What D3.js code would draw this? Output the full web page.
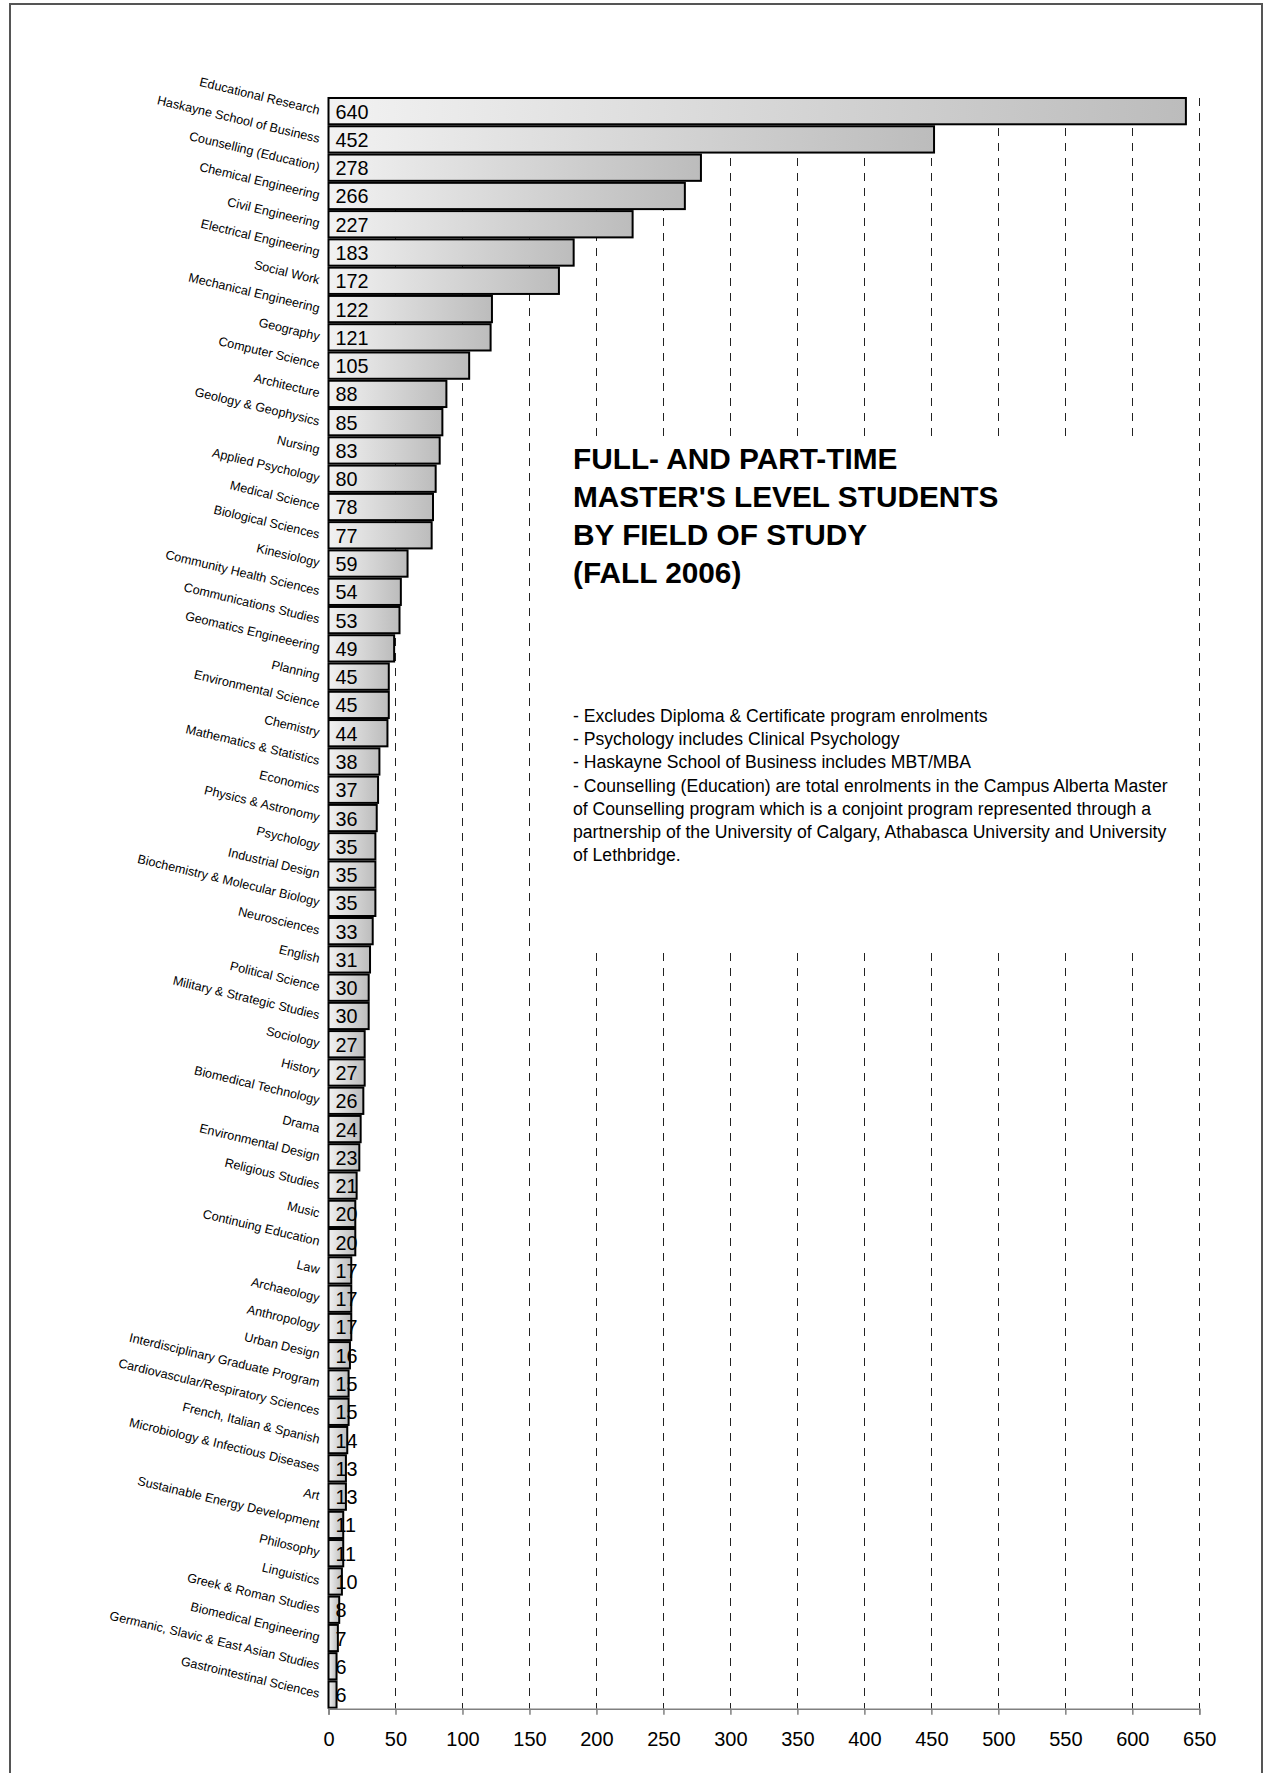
<!DOCTYPE html>
<html><head><meta charset="utf-8">
<script src="https://cdn.jsdelivr.net/npm/d3@7"></script>
<style>
html,body{margin:0;padding:0;background:#fff;}
svg{display:block;font-family:"Liberation Sans",Arial,sans-serif;}
</style></head>
<body><svg id="chart" width="1264" height="1773"></svg>
<script>
const categories = ["Educational Research","Haskayne School of Business","Counselling (Education)","Chemical Engineering","Civil Engineering","Electrical Engineering","Social Work","Mechanical Engineering","Geography","Computer Science","Architecture","Geology & Geophysics","Nursing","Applied Psychology","Medical Science","Biological Sciences","Kinesiology","Community Health Sciences","Communications Studies","Geomatics Engineeering","Planning","Environmental Science","Chemistry","Mathematics & Statistics","Economics","Physics & Astronomy","Psychology","Industrial Design","Biochemistry & Molecular Biology","Neurosciences","English","Political Science","Military & Strategic Studies","Sociology","History","Biomedical Technology","Drama","Environmental Design","Religious Studies","Music","Continuing Education","Law","Archaeology","Anthropology","Urban Design","Interdisciplinary Graduate Program","Cardiovascular/Respiratory Sciences","French, Italian & Spanish","Microbiology & Infectious Diseases","Art","Sustainable Energy Development","Philosophy","Linguistics","Greek & Roman Studies","Biomedical Engineering","Germanic, Slavic & East Asian Studies","Gastrointestinal Sciences"];
const values = [640,452,278,266,227,183,172,122,121,105,88,85,83,80,78,77,59,54,53,49,45,45,44,38,37,36,35,35,35,33,31,30,30,27,27,26,24,23,21,20,20,17,17,17,16,15,15,14,13,13,11,11,10,8,7,6,6];
const xTicks = [0,50,100,150,200,250,300,350,400,450,500,550,600,650];
const titleLines = ["FULL- AND PART-TIME","MASTER'S LEVEL STUDENTS","BY FIELD OF STUDY","(FALL 2006)"];
const noteLines = ["- Excludes Diploma & Certificate program enrolments","- Psychology includes Clinical Psychology","- Haskayne School of Business includes MBT/MBA","- Counselling (Education) are total enrolments in the Campus Alberta Master","of Counselling program which is a conjoint program represented through a","partnership of the University of Calgary, Athabasca University and University","of Lethbridge."];

const svg = d3.select("#chart");
const plotLeft = 328.5, plotRight = 1199.3, plotTop = 97, plotBottom = 1708.7;

const x = d3.scaleLinear().domain([0,650]).range([plotLeft,plotRight]);
const y = d3.scaleBand().domain(categories).range([plotTop,plotBottom]).paddingInner(0.07).paddingOuter(0.035);

const defs = svg.append("defs");
const grad = defs.append("linearGradient").attr("id","barGrad").attr("x1","0").attr("x2","1").attr("y1","0").attr("y2","0");
grad.append("stop").attr("offset","0").attr("stop-color","#f2f2f2");
grad.append("stop").attr("offset","1").attr("stop-color","#bcbcbc");

// frame (bottom edge lies outside the picture)
svg.append("rect").attr("x",10).attr("y",4).attr("width",1252).attr("height",1790)
  .attr("fill","none").attr("stroke","#555").attr("stroke-width",2);

// gridlines
svg.append("g").selectAll("line").data(xTicks.filter(d=>d>0)).join("line")
  .attr("x1",d=>Math.round(x(d))+0.5).attr("x2",d=>Math.round(x(d))+0.5)
  .attr("y1",plotTop+1).attr("y2",plotBottom)
  .attr("stroke","#222").attr("stroke-width",1).attr("stroke-dasharray","8,7");

// white box behind title/notes
svg.append("rect").attr("x",552).attr("y",436).attr("width",618).attr("height",517).attr("fill","#fff");

// y axis line
svg.append("line").attr("x1",plotLeft).attr("x2",plotLeft).attr("y1",plotTop).attr("y2",plotBottom).attr("stroke","#808080");

// bars
svg.append("g").selectAll("rect").data(values).join("rect")
  .attr("x",x(0)).attr("y",(d,i)=>y(categories[i]))
  .attr("width",d=>x(d)-x(0)).attr("height",y.bandwidth())
  .attr("fill","url(#barGrad)").attr("stroke","#000").attr("stroke-width",2);

// value labels
svg.append("g").selectAll("text").data(values).join("text")
  .attr("x",x(0)+7).attr("y",(d,i)=>y(categories[i])+y.bandwidth()/2+7.5)
  .attr("font-size",19.8).attr("fill","#000").text(d=>d);

// category labels
svg.append("g").selectAll("text").data(categories).join("text")
  .attr("text-anchor","end").attr("font-size",12.6)
  .attr("transform",d=>`translate(318.5,${y(d)+y.bandwidth()/2+3.5}) rotate(13.5)`)
  .text(d=>d);

// x axis
const xAxis = svg.append("g").attr("transform",`translate(0,${plotBottom})`)
  .call(d3.axisBottom(x).tickValues(xTicks).tickSize(6).tickPadding(17).tickFormat(d3.format("d")));
xAxis.selectAll("path,line").attr("stroke","#808080").attr("stroke-width",1.5);
xAxis.selectAll("text").attr("font-size",20).attr("fill","#000").attr("font-family","Liberation Sans, Arial, sans-serif");

// title
svg.append("g").selectAll("text").data(titleLines).join("text")
  .attr("x",573).attr("y",(d,i)=>469+i*38).attr("font-size",29.8).attr("font-weight","bold").text(d=>d);

// notes
svg.append("g").selectAll("text").data(noteLines).join("text")
  .attr("x",573).attr("y",(d,i)=>722+i*23.2).attr("font-size",17.6).text(d=>d);
</script></body></html>
